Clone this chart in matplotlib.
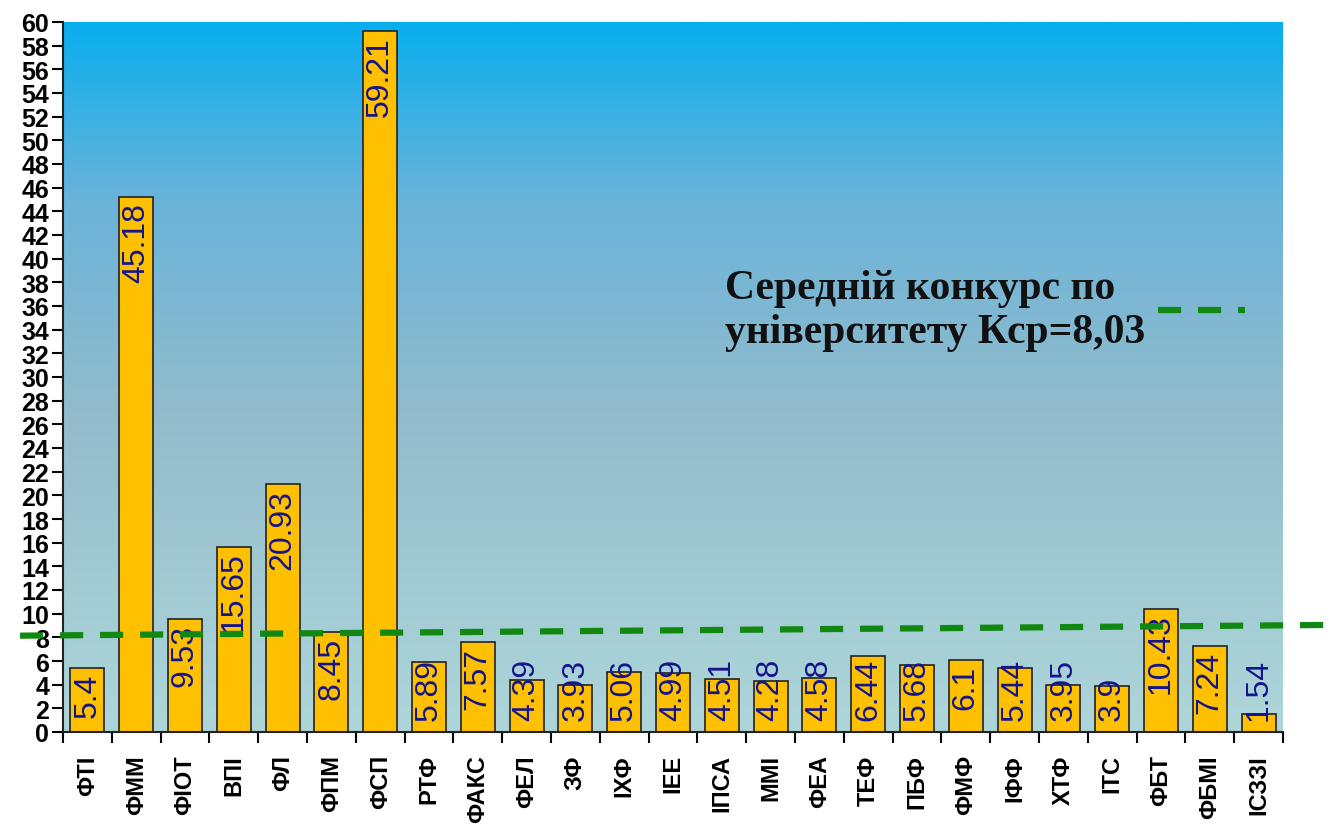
import matplotlib
matplotlib.use('Agg')
import matplotlib.pyplot as plt
import numpy as np
from matplotlib.colors import LinearSegmentedColormap

# Faculty names and average competition values
faculties = ['ФТІ', 'ФММ', 'ФІОТ', 'ВПІ', 'ФЛ', 'ФПМ', 'ФСП', 'РТФ', 'ФАКС', 'ФЕЛ',
             'ЗФ', 'ІХФ', 'ІЕЕ', 'ІПСА', 'ММІ', 'ФЕА', 'ТЕФ', 'ПБФ', 'ФМФ', 'ІФФ',
             'ХТФ', 'ІТС', 'ФБТ', 'ФБМІ', 'ІСЗЗІ']
values = [5.4, 45.18, 9.53, 15.65, 20.93, 8.45, 59.21, 5.89, 7.57, 4.39,
          3.93, 5.06, 4.99, 4.51, 4.28, 4.58, 6.44, 5.68, 6.1, 5.44,
          3.95, 3.9, 10.43, 7.24, 1.54]
value_labels = ['5.4', '45.18', '9.53', '15.65', '20.93', '8.45', '59.21', '5.89', '7.57', '4.39',
                '3.93', '5.06', '4.99', '4.51', '4.28', '4.58', '6.44', '5.68', '6.1', '5.44',
                '3.95', '3.9', '10.43', '7.24', '1.54']

# average line as drawn on the slide (slightly sloped), and its legend sample
avg_line_x = [-1.38, 25.55]
avg_line_y = [8.14, 9.05]
legend_x = [21.94, 23.72]
legend_y = [35.67, 35.67]
avg_text = 'Середній конкурс по\nуніверситету Кср=8,03'

fig = plt.figure(figsize=(13.35, 8.28), dpi=100)
ax = fig.add_axes([63 / 1335, 1 - 733 / 828, (1283 - 63) / 1335, (733 - 23) / 828])

n = len(faculties)
x = np.arange(n)

# gradient background
cmap = LinearSegmentedColormap.from_list(
    'bg', [(0.0, '#aed6da'), (0.45, '#92bccc'), (0.75, '#6ab3da'), (1.0, '#08aeee')])
grad = np.linspace(0, 1, 256).reshape(-1, 1)
ax.imshow(grad, extent=(-0.5, n - 0.5, 0, 60), origin='lower', aspect='auto',
          cmap=cmap, zorder=0)

ax.bar(x, values, width=0.7, color='#ffc000', edgecolor='#222222', linewidth=1.2, zorder=2)

ax.set_xlim(-0.5, n - 0.5)
ax.set_ylim(0, 60)
ax.set_yticks(range(0, 61, 2))
ax.set_xticks(x)
ax.set_xticklabels(faculties, rotation=90, fontsize=17, fontweight='bold',
                   family='Liberation Sans')
ax.set_xticks(np.arange(n + 1) - 0.5, minor=True)
ax.tick_params(axis='x', which='major', length=0, pad=16)
ax.tick_params(axis='x', which='minor', length=8, width=1.5, direction='out')
ax.tick_params(axis='y', length=8, width=1.5, pad=2)
for lab in ax.get_yticklabels():
    lab.set_fontsize(18)
    lab.set_fontweight('bold')
    lab.set_family('Liberation Sans')

for s in ['top', 'right']:
    ax.spines[s].set_visible(False)
for s in ['left', 'bottom']:
    ax.spines[s].set_linewidth(1.5)
    ax.spines[s].set_color('#222222')

# value labels inside bars (pushed up from the base for short bars)
fig.canvas.draw()
renderer = fig.canvas.get_renderer()
for xi, v, lab in zip(x, values, value_labels):
    t = ax.text(xi, v - 0.4, lab, rotation=90, ha='center', va='top', fontsize=23,
                color='#14148c', family='Liberation Sans', zorder=4)
    bb = t.get_window_extent(renderer).transformed(ax.transData.inverted())
    if bb.y0 < 1.0:
        t.set_y(1.0)
        t.set_va('bottom')

dash = (0, (3.7, 2.7))
ax.plot(avg_line_x, avg_line_y, color='#118811', linewidth=4.5, linestyle=dash,
        clip_on=False, zorder=5)
ax.plot(legend_x, legend_y, color='#118811', linewidth=4.5, linestyle=dash,
        clip_on=False, zorder=5)

fig.text(725 / 1335, 1 - 270 / 828, avg_text, ha='left', va='top', fontsize=30,
         fontweight='bold', family='Liberation Serif', linespacing=1.22, color='#111111')

fig.savefig('out.png', dpi=100)
